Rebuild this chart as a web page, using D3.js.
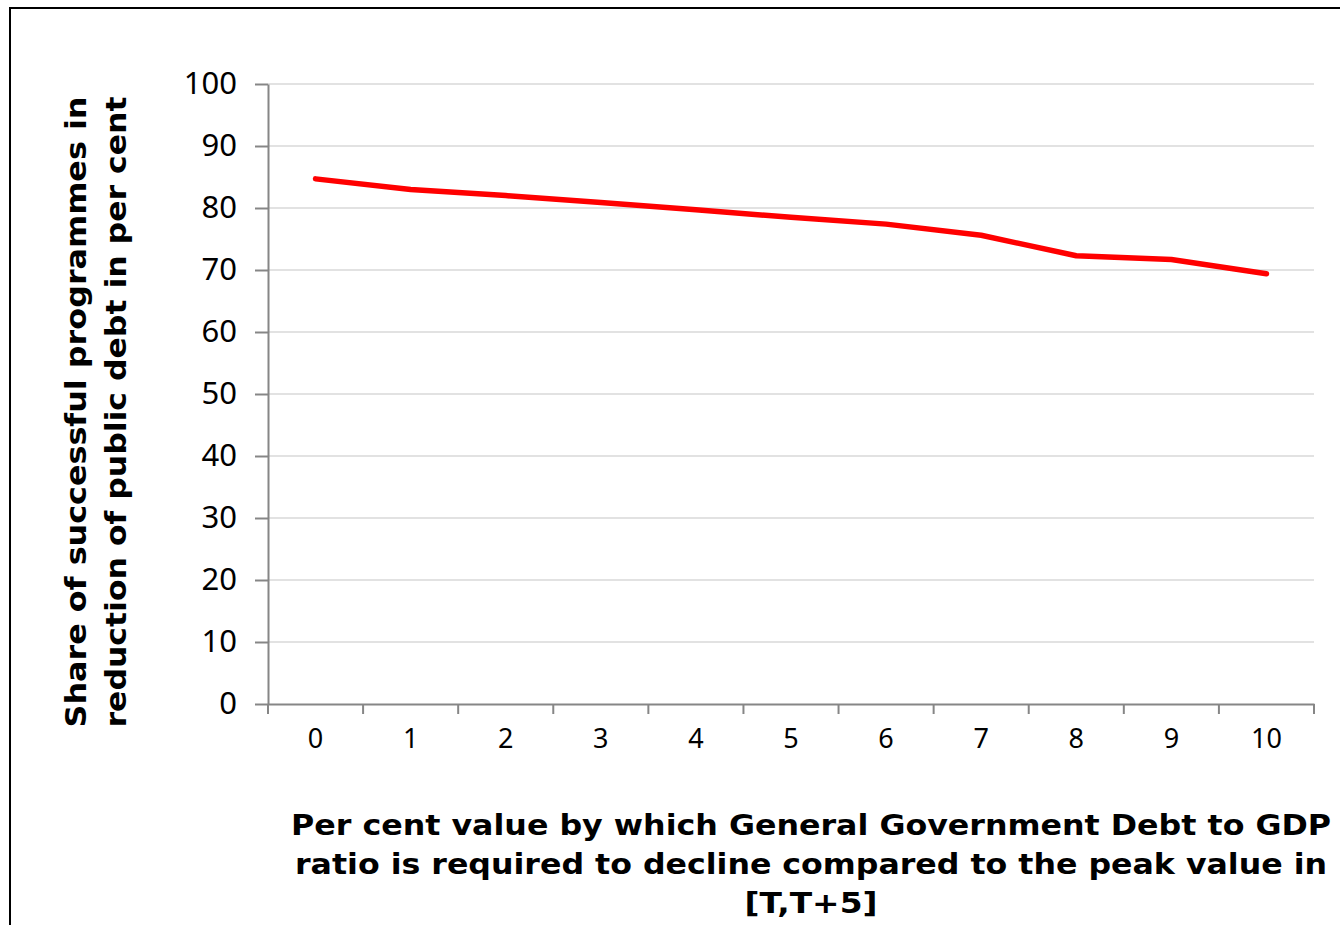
<!DOCTYPE html>
<html>
<head>
<meta charset="utf-8">
<script src="https://cdn.jsdelivr.net/npm/d3@7"></script>
<style>
  body { margin:0; background:#fff; }
  svg { display:block; }
</style>
</head>
<body>
<svg id="chart" width="1340" height="925"></svg>
<script>
// --- data ---
const categories = ['0','1','2','3','4','5','6','7','8','9','10'];
const shareValues = [84.7, 83.0, 82.0, 80.9, 79.7, 78.5, 77.4, 75.6, 72.3, 71.7, 69.4];
const yTicks = [0,10,20,30,40,50,60,70,80,90,100];
const yTitleLines = ['Share of successful programmes in', 'reduction of public debt in per cent'];
const xTitleLines = ['Per cent value by which General Government Debt to GDP',
                     'ratio is required to decline compared to the peak value in',
                     '[T,T+5]'];

const svg = d3.select('#chart');

// outer frame (runs off right and bottom edges)
svg.append('rect')
  .attr('x', 10).attr('y', 8).attr('width', 1345).attr('height', 940)
  .attr('fill', 'none').attr('stroke', '#000').attr('stroke-width', 2);

// --- scales ---
const plot = { left: 268, right: 1314, top: 84, bottom: 704 };
const x = d3.scaleBand().domain(categories).range([plot.left, plot.right]);
const y = d3.scaleLinear().domain([0, 100]).range([plot.bottom, plot.top]);

// gridlines
svg.append('g').selectAll('line')
  .data(yTicks.filter(t => t > 0))
  .join('line')
  .attr('x1', plot.left).attr('x2', plot.right)
  .attr('y1', d => y(d)).attr('y2', d => y(d))
  .attr('stroke', '#d9d9d9').attr('stroke-width', 1.5);

// y axis
const yAxis = svg.append('g')
  .attr('transform', `translate(${plot.left},0)`)
  .call(d3.axisLeft(y).tickValues(yTicks).tickSize(13).tickSizeOuter(0).tickPadding(18));
yAxis.select('.domain').attr('stroke', '#868686').attr('stroke-width', 2);
yAxis.selectAll('.tick line').attr('stroke', '#868686').attr('stroke-width', 2);
yAxis.selectAll('.tick text')
  .attr('font-family', '"Noto Sans", "Open Sans", sans-serif')
  .attr('font-size', 31).attr('fill', '#000');

// x axis
const xAxis = svg.append('g')
  .attr('transform', `translate(0,${plot.bottom})`)
  .call(d3.axisBottom(x).tickSize(0).tickPadding(25));
xAxis.select('.domain').attr('stroke', '#868686').attr('stroke-width', 2);
xAxis.selectAll('.tick text')
  .attr('font-family', '"Noto Sans", "Open Sans", sans-serif')
  .attr('font-size', 27).attr('fill', '#000');

// x ticks at band boundaries
const bounds = categories.map(c => x(c)).concat([x(categories[categories.length-1]) + x.bandwidth()]);
svg.append('g').selectAll('line')
  .data(bounds)
  .join('line')
  .attr('x1', d => d).attr('x2', d => d)
  .attr('y1', plot.bottom).attr('y2', plot.bottom + 10)
  .attr('stroke', '#868686').attr('stroke-width', 2);

// --- series line ---
const line = d3.line()
  .x((d, i) => x(categories[i]) + x.bandwidth() / 2)
  .y(d => y(d));

svg.append('path')
  .datum(shareValues)
  .attr('d', line)
  .attr('fill', 'none')
  .attr('stroke', '#ff0000')
  .attr('stroke-width', 5.5)
  .attr('stroke-linecap', 'round')
  .attr('stroke-linejoin', 'round');

// --- axis titles ---
const titleFont = '"DejaVu Sans", Verdana, sans-serif';

const yTitle = svg.append('g').attr('transform', 'translate(0,412) rotate(-90)');
yTitleLines.forEach((t, i) => {
  yTitle.append('text')
    .attr('x', 0).attr('y', 86 + i * 40)
    .attr('text-anchor', 'middle')
    .attr('font-family', titleFont).attr('font-weight', 'bold')
    .attr('font-size', 28)
    .attr('textLength', 631).attr('lengthAdjust', 'spacingAndGlyphs')
    .text(t);
});

const xTitleLen = [1040, 1032, 133];
xTitleLines.forEach((t, i) => {
  svg.append('text')
    .attr('x', 811).attr('y', 835 + i * 39)
    .attr('text-anchor', 'middle')
    .attr('font-family', titleFont).attr('font-weight', 'bold')
    .attr('font-size', 28)
    .attr('textLength', xTitleLen[i]).attr('lengthAdjust', 'spacingAndGlyphs')
    .text(t);
});
</script>
</body>
</html>
